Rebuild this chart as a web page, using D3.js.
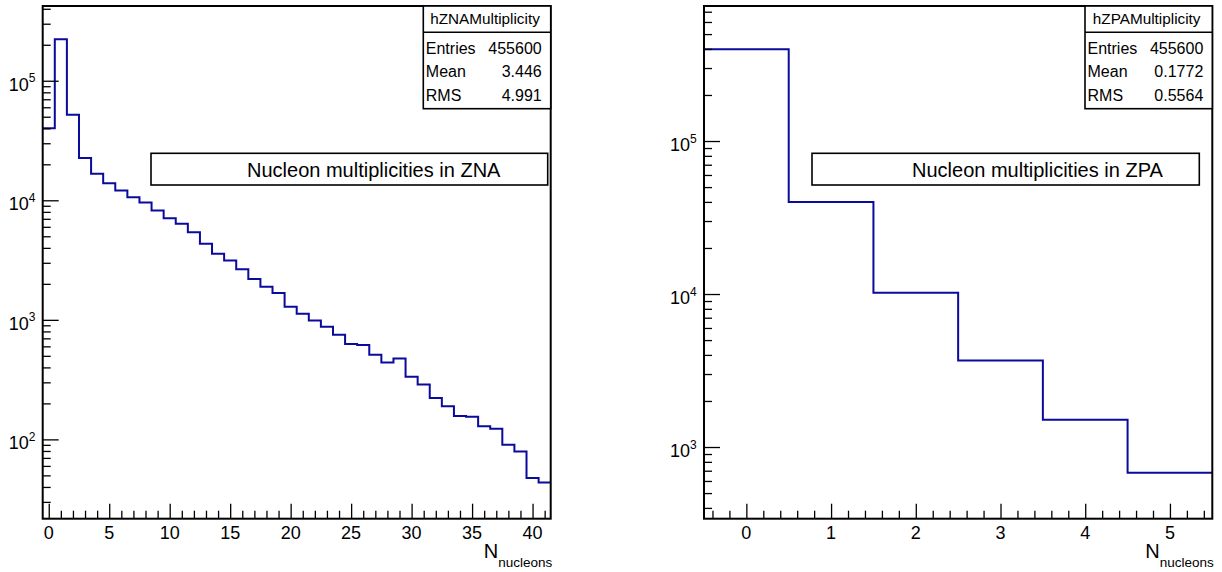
<!DOCTYPE html>
<html>
<head>
<meta charset="utf-8">
<script src="https://cdn.jsdelivr.net/npm/d3@7"></script>
<style>
  html, body { margin: 0; padding: 0; background: #fff; }
  svg { display: block; }
  text { font-family: "Liberation Sans", Arial, Helvetica, sans-serif; fill: #000; }
</style>
</head>
<body>
<svg id="chart" width="1222" height="572"></svg>
<script>
// ---------------- DATA ----------------
const znaBinCenters = [0,1,2,3,4,5,6,7,8,9,10,11,12,13,14,15,16,17,18,19,20,
                       21,22,23,24,25,26,27,28,29,30,31,32,33,34,35,36,37,38,39,40,41];
const znaCounts = [40000,222000,52000,22600,16700,13900,12050,10600,9580,8200,7080,
                   6350,5410,4320,3570,3130,2650,2200,1890,1675,1285,
                   1125,989,875,750,628,616,510,440,476,334,
                   288,222,189,157,155,129,123,90,79,47.5,43.5];
const zpaBinCenters = [0,1,2,3,4,5];
const zpaCounts = [398000,40000,10200,3680,1507,680];

const znaXTickLabels = [0,5,10,15,20,25,30,35,40];
const zpaXTickLabels = [0,1,2,3,4,5];
const znaYTickLabels = [100,1000,10000,100000];
const zpaYTickLabels = [1000,10000,100000];

const znaStats = [["Entries","455600"],["Mean","3.446"],["RMS","4.991"]];
const zpaStats = [["Entries","455600"],["Mean","0.1772"],["RMS","0.5564"]];
const znaName = "hZNAMultiplicity";
const zpaName = "hZPAMultiplicity";
const znaTitle = "Nucleon multiplicities in ZNA";
const zpaTitle = "Nucleon multiplicities in ZPA";
const xAxisTitleMain = "N";
const xAxisTitleSub = "nucleons";

// ---------------- DRAW ----------------
const svg = d3.select("#chart");
const LINE_COLOR = "#0a0a9c";

function drawPanel(cfg) {
  const g = svg.append("g");
  const x = d3.scaleLinear().domain(cfg.xDomain).range([cfg.x0, cfg.x1]);
  const y = d3.scaleLog().domain(cfg.yDomain).range([cfg.y1, cfg.y0]);

  // histogram step line
  const pts = [];
  cfg.centers.forEach((c, i) => {
    pts.push([c - cfg.binW / 2, cfg.counts[i]]);
    pts.push([c + cfg.binW / 2, cfg.counts[i]]);
  });
  g.append("path")
    .attr("d", d3.line().x(d => x(d[0])).y(d => y(d[1]))(pts))
    .attr("fill", "none")
    .attr("stroke", LINE_COLOR)
    .attr("stroke-width", 2)
    .attr("stroke-linejoin", "miter");

  // y minor ticks
  const [ylo, yhi] = cfg.yDomain;
  const yMinor = [];
  for (let e = Math.floor(Math.log10(ylo)); e <= Math.ceil(Math.log10(yhi)); e++) {
    for (let k = 2; k <= 9; k++) {
      const v = k * Math.pow(10, e);
      if (v > ylo && v < yhi) yMinor.push(v);
    }
  }
  const yMajorAxis = d3.axisRight(y).tickValues(cfg.yTicks).tickSize(16).tickFormat("");
  const yMinorAxis = d3.axisRight(y).tickValues(yMinor).tickSize(8).tickFormat("");
  [yMajorAxis, yMinorAxis].forEach(ax => {
    const a = g.append("g").attr("transform", `translate(${cfg.x0},0)`).call(ax);
    a.select(".domain").remove();
    a.selectAll("line").attr("stroke", "#000").attr("stroke-width", 1.3);
  });

  // y labels 10^n
  cfg.yTicks.forEach(v => {
    const t = g.append("text")
      .attr("x", cfg.x0 - 34)
      .attr("y", y(v) + 10)
      .attr("font-size", 18);
    t.append("tspan").text("10");
    t.append("tspan").attr("font-size", 12).attr("dy", -8.5)
      .text(String(Math.round(Math.log10(v))));
  });

  // x ticks
  const xMajorAxis = d3.axisTop(x).tickValues(cfg.xTicks).tickSize(15).tickFormat("");
  const xMinorAxis = d3.axisTop(x).tickValues(cfg.xMinor).tickSize(8).tickFormat("");
  [xMajorAxis, xMinorAxis].forEach(ax => {
    const a = g.append("g").attr("transform", `translate(0,${cfg.y1})`).call(ax);
    a.select(".domain").remove();
    a.selectAll("line").attr("stroke", "#000").attr("stroke-width", 1.3);
  });
  cfg.xTicks.forEach(v => {
    g.append("text")
      .attr("x", x(v)).attr("y", 538.5)
      .attr("text-anchor", "middle")
      .attr("font-size", 18)
      .text(v);
  });

  // frame
  g.append("rect")
    .attr("x", cfg.x0).attr("y", cfg.y0)
    .attr("width", cfg.x1 - cfg.x0).attr("height", cfg.y1 - cfg.y0)
    .attr("fill", "none").attr("stroke", "#000").attr("stroke-width", 2);

  // x axis title
  const xt = g.append("text").attr("x", cfg.x1 - 67).attr("y", 558).attr("font-size", 20);
  xt.append("tspan").text(xAxisTitleMain);
  xt.append("tspan").attr("font-size", 13.5).attr("dy", 8.5).text(xAxisTitleSub);

  // stats box
  const sx0 = cfg.statsX0, sx1 = cfg.x1;
  g.append("rect")
    .attr("x", sx0).attr("y", cfg.y0)
    .attr("width", sx1 - sx0).attr("height", 108.7 - cfg.y0)
    .attr("fill", "#fff").attr("stroke", "#000").attr("stroke-width", 1.6);
  g.append("line")
    .attr("x1", sx0).attr("x2", sx1).attr("y1", 32.3).attr("y2", 32.3)
    .attr("stroke", "#000").attr("stroke-width", 1.6);
  g.append("text")
    .attr("x", (sx0 + sx1) / 2 - 2).attr("y", 23.5)
    .attr("text-anchor", "middle").attr("font-size", 15.3)
    .text(cfg.name);
  const rowY = [53.5, 77, 100.5];
  cfg.stats.forEach((r, i) => {
    g.append("text").attr("x", sx0 + 2.5).attr("y", rowY[i])
      .attr("font-size", 16).text(r[0]);
    g.append("text").attr("x", sx1 - 9).attr("y", rowY[i])
      .attr("text-anchor", "end").attr("font-size", 16).text(r[1]);
  });

  // title box
  g.append("rect")
    .attr("x", cfg.tbX0).attr("y", 153.3)
    .attr("width", cfg.tbX1 - cfg.tbX0).attr("height", 185 - 153.3)
    .attr("fill", "#fff").attr("stroke", "#000").attr("stroke-width", 1.6);
  g.append("text")
    .attr("x", cfg.tbTextX).attr("y", 177)
    .attr("font-size", 20)
    .text(cfg.title);
}

drawPanel({
  x0: 42.7, x1: 550.7, y0: 6, y1: 518.7,
  xDomain: [-0.5, 41.5], yDomain: [21.7, 4.22e5],
  centers: znaBinCenters, counts: znaCounts, binW: 1,
  yTicks: znaYTickLabels,
  xTicks: znaXTickLabels,
  xMinor: d3.range(1, 42).filter(v => v % 5 !== 0),
  statsX0: 423.3, name: znaName, stats: znaStats,
  tbX0: 151, tbX1: 547.7, tbTextX: 247, title: znaTitle
});

drawPanel({
  x0: 704, x1: 1212.3, y0: 6, y1: 518.7,
  xDomain: [-0.5, 5.5], yDomain: [340, 7.63e5],
  centers: zpaBinCenters, counts: zpaCounts, binW: 1,
  yTicks: zpaYTickLabels,
  xTicks: zpaXTickLabels,
  xMinor: d3.range(-2, 28).map(v => v / 5).filter(v => Math.abs(v - Math.round(v)) > 1e-6),
  statsX0: 1085, name: zpaName, stats: zpaStats,
  tbX0: 812, tbX1: 1199.3, tbTextX: 912, title: zpaTitle
});
</script>
</body>
</html>
